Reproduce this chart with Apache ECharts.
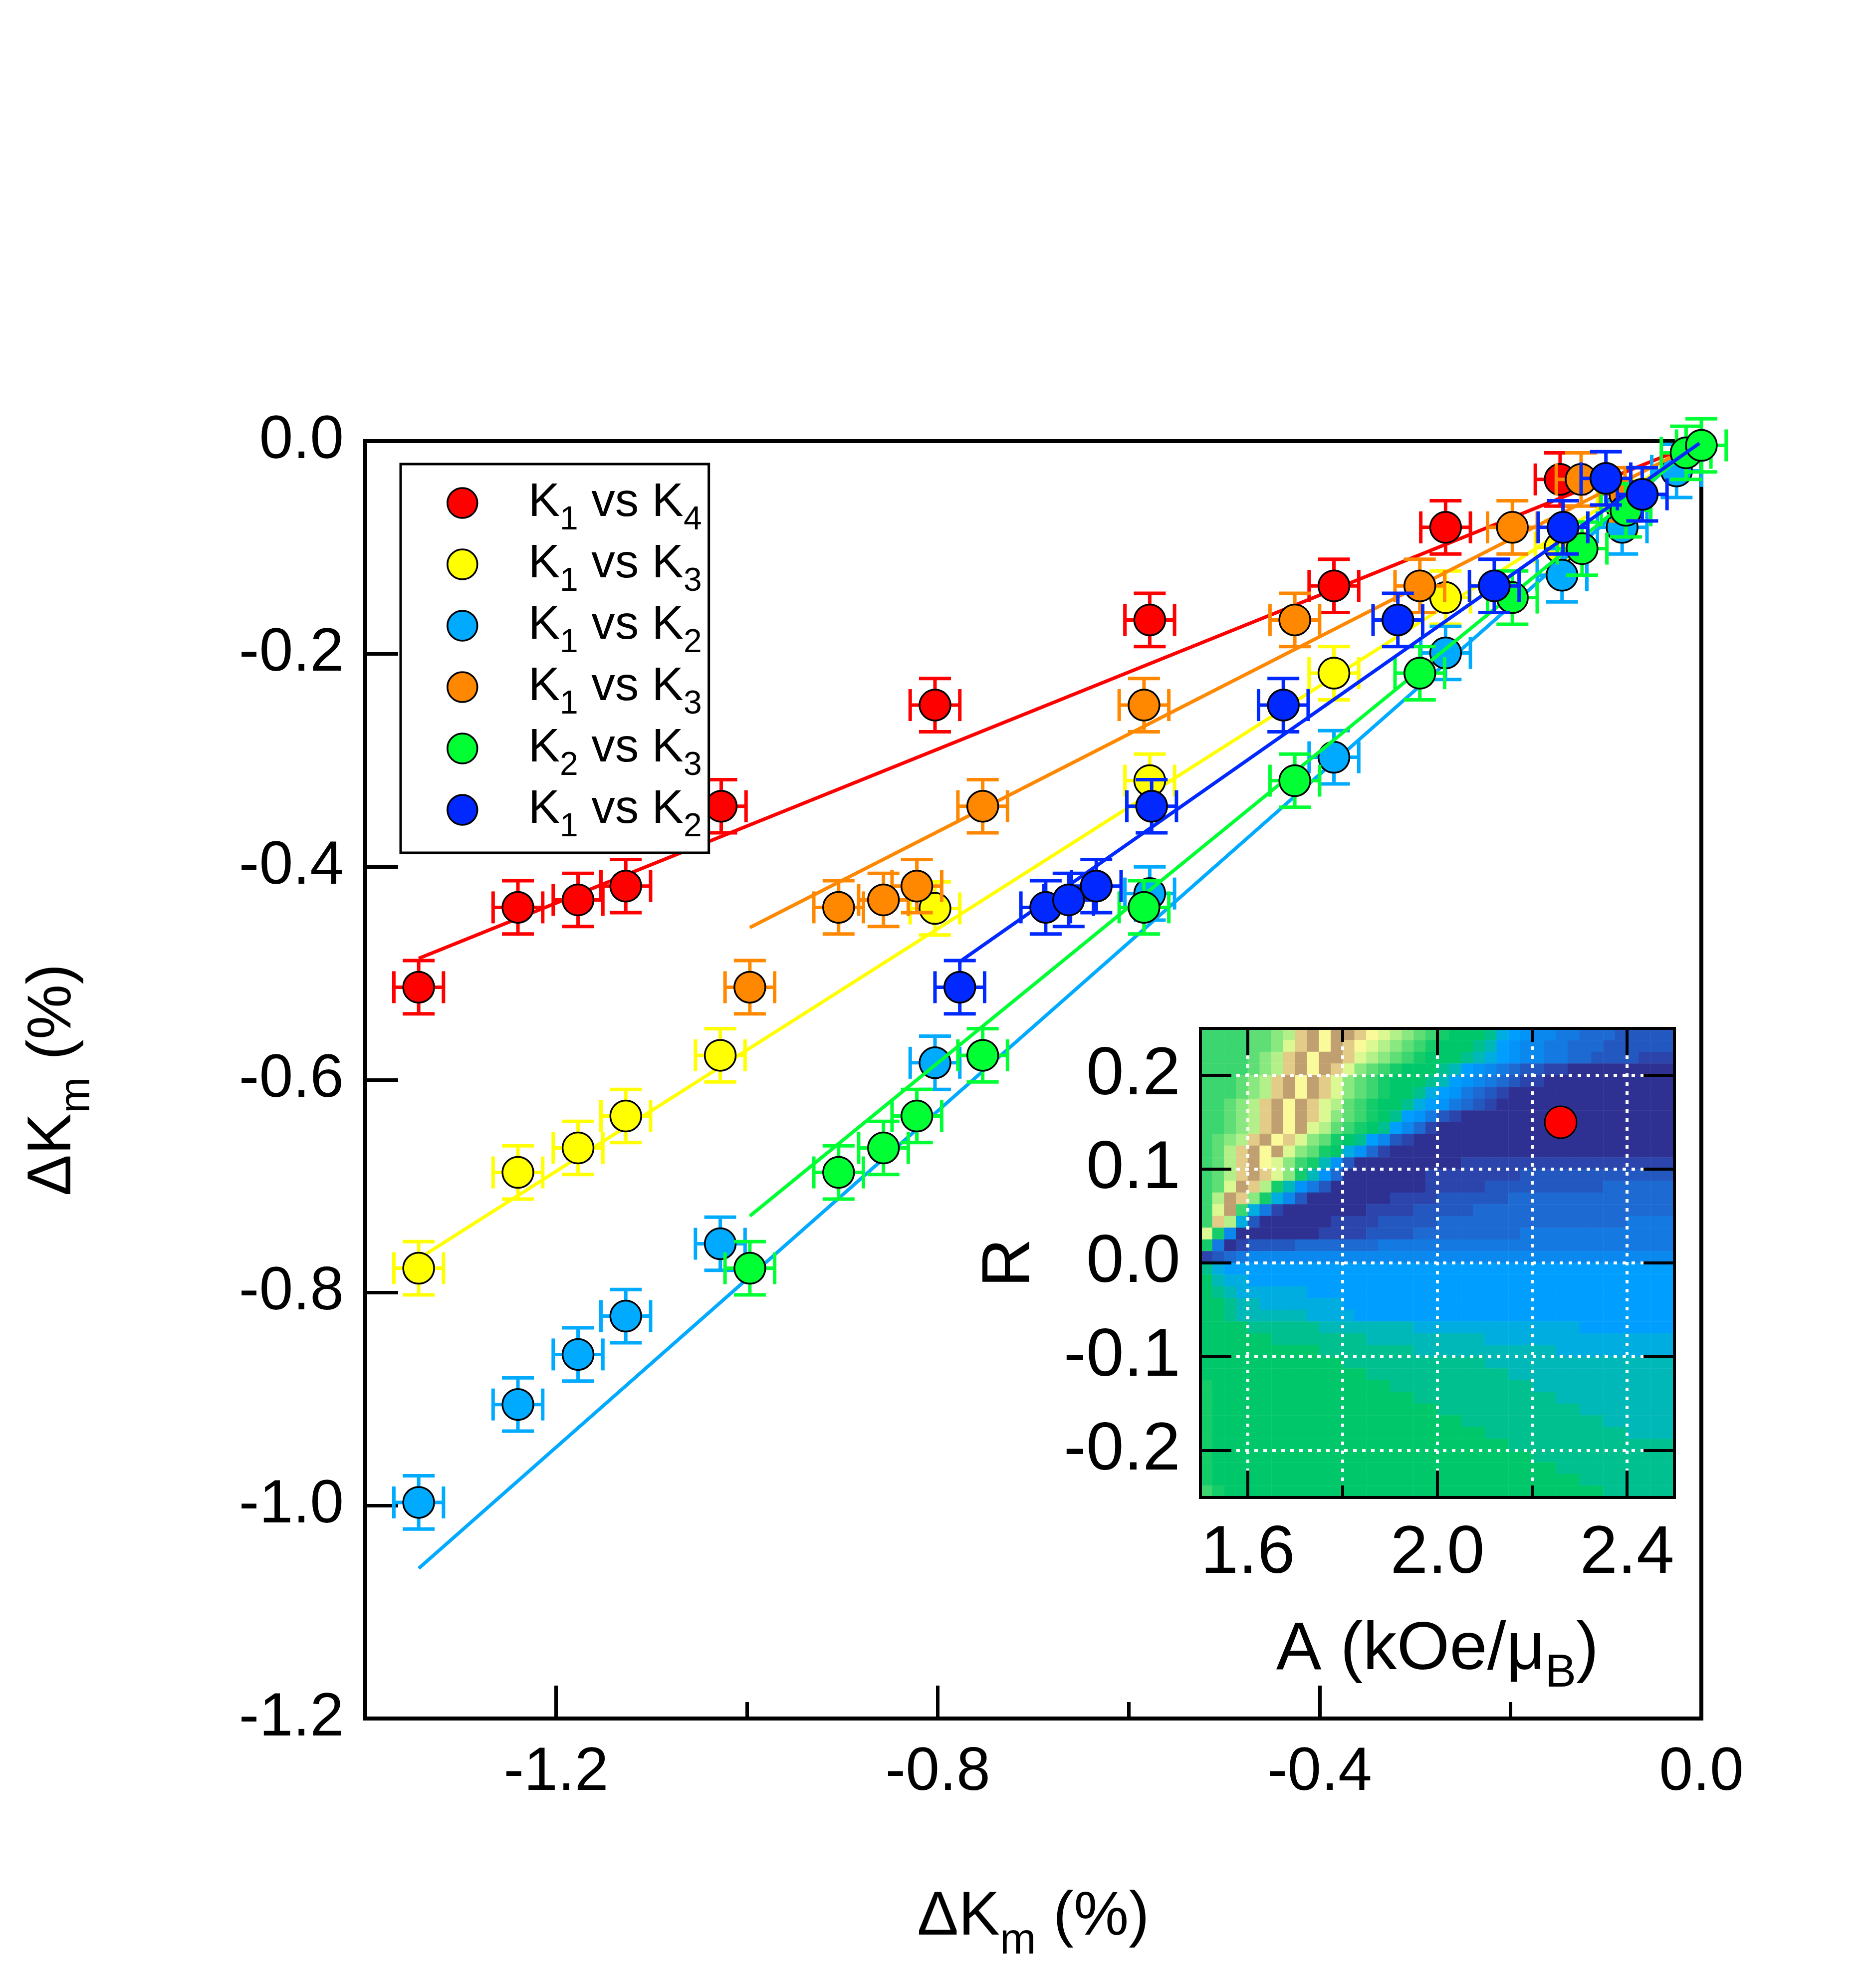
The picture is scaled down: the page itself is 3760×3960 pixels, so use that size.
<!DOCTYPE html>
<html>
<head>
<meta charset="utf-8">
<script src="https://cdn.jsdelivr.net/npm/echarts@6/dist/echarts.min.js"></script>
<style>
  html, body { margin: 0; padding: 0; background: #fff; }
  #chart { width: 3760px; height: 3960px; }
</style>
</head>
<body>
<div id="chart"></div>
<script>
// Main panel: change of K_m for one pair against another
const seriesNames = ['K1 vs K4', 'K1 vs K3', 'K1 vs K2', 'K1 vs K3 ', 'K2 vs K3', 'K1 vs K2 '];
const seriesColors = ['#ff0000', '#ffff00', '#00aaff', '#ff8800', '#00ff33', '#0028ff'];

const k1k4X = [-1.344, -1.240, -1.177, -1.127, -1.027, -0.803, -0.578, -0.385, -0.268, -0.148];
const k1k4Y = [-0.513, -0.438, -0.431, -0.418, -0.343, -0.248, -0.168, -0.136, -0.081, -0.036];
const k1k3X = [-1.344, -1.240, -1.177, -1.127, -1.028, -0.803, -0.578, -0.385, -0.268, -0.148, -0.083];
const k1k3Y = [-0.777, -0.687, -0.664, -0.634, -0.577, -0.439, -0.319, -0.218, -0.147, -0.100, -0.062];
const k1k2X = [-1.344, -1.240, -1.177, -1.127, -1.028, -0.803, -0.578, -0.385, -0.268, -0.146, -0.083, -0.026];
const k1k2Y = [-0.997, -0.905, -0.858, -0.822, -0.754, -0.584, -0.425, -0.297, -0.199, -0.126, -0.081, -0.028];
const k1k3bX = [-0.997, -0.904, -0.857, -0.822, -0.753, -0.584, -0.426, -0.295, -0.198, -0.126, -0.080];
const k1k3bY = [-0.513, -0.438, -0.431, -0.418, -0.343, -0.248, -0.168, -0.136, -0.081, -0.036, -0.050];
const k2k3X = [-0.997, -0.904, -0.857, -0.822, -0.753, -0.584, -0.426, -0.295, -0.198, -0.125, -0.079, -0.016, 0.000];
const k2k3Y = [-0.777, -0.687, -0.664, -0.634, -0.577, -0.438, -0.319, -0.218, -0.147, -0.101, -0.065, -0.011, -0.004];
const k1k2bX = [-0.777, -0.687, -0.663, -0.634, -0.576, -0.438, -0.318, -0.217, -0.145, -0.100, -0.062];
const k1k2bY = [-0.513, -0.438, -0.431, -0.418, -0.343, -0.248, -0.168, -0.136, -0.081, -0.035, -0.050];

// straight fit lines, [start, end]
const fitX = [[-1.344, -0.005], [-1.344, -0.005], [-1.344, -0.005], [-0.997, -0.005], [-0.997, -0.005], [-0.777, -0.002]];
const fitY = [[-0.486, -0.002], [-0.768, -0.005], [-1.059, -0.001], [-0.457, -0.003], [-0.728, -0.003], [-0.489, -0.002]];

const errX = 0.026;
const errY = 0.025;

const mainXMajor = [-1.2, -0.8, -0.4];
const mainXMinor = [-1.0, -0.6, -0.2];
const mainXLabels = [-1.2, -0.8, -0.4, 0.0];

// Inset: map over A (kOe/muB) and R
const insetA = [2.26];
const insetR = [0.15];
const insetAMajor = [1.6, 2.0, 2.4];
const insetAMinor = [1.8, 2.2];
const insetRTicks = [-0.2, -0.1, 0.0, 0.1, 0.2];
const insetGridA = [1.6, 1.8, 2.0, 2.2, 2.4];
const insetGridR = [-0.2, -0.1, 0.0, 0.1, 0.2];

// colour levels A..V, low to high
const heatColors = ['#2e3192', '#2b45ad', '#2358c0', '#1c6ad2', '#1479e0', '#0a88ee', '#0394fa', '#009fff',
  '#00ade0', '#00b8b8', '#00c090', '#00c86a', '#14cc6a', '#3cd670', '#60de76', '#8ae880', '#b4f08a',
  '#dcf892', '#fafa9a', '#e2cc88', '#c0a070', '#98705a'];

// 40 x 40 cells, top row is R = 0.25, left column is A = 1.5
const heatRows = [
  'NNNNOOPQTU SUUTSRQPON MLLLKIHGFF EEDDDCCCCC',
  'NNNNOOPRTU SUTSRQPONM LLLKJHGFFE EDDDCCCCCC',
  'NNNNOPQTUS UUTRQPONML LLKJIHGFFE EDDCCCCBBB',
  'NNNNOPQTUS UTRPONMLLL KJHGFEDCCB BAAAAAAAAA',
  'NNNOPQTUSU TRPONMLLLK JHGFEDCBBA AAAAAAAAAA',
  'NNNOPQTUSU TRPONMLLKI HGEDCBAAAA AAAAAAAAAA',
  'NNOPQTUSUT RQONMLLKIH GEDCBAAAAA AAAAAAAAAA',
  'NNOPQTUSUT RPONMLKHGE CBAAAAAAAA AAAAAAAAAA',
  'NNOPQTUSUR QONMLKHFDB AAAAAAAAAA AAAAAAAAAA',
  'NOPQTUSTRP OMLKHFCBAA AAAAAAAAAA AAAAAAAAAA',
  'NOQTUSURPO MLIGDBAAAA AAAAAAAAAA AAAAAAAAAA',
  'NOQTUSRPNM JGCAAAAAAA AABBBBBBBB BBBBBBBBBB',
  'NOQTUTRPMJ GDAAAAAAAB BBBBBBBCCC CCCCCCCCCC',
  'NORUTQMJGE CAAAAAAAAB BBBBCCCCCC CCCCDDDDDD',
  'NQUTPMIFCA AAAAAABBBB CCCCCCDDDD DDDDDDDDDD',
  'NRUNIEBAAA AAAABBBBCC CCCDDDDDDD DDDDDDDDDD',
  'NTQICAAAAA ABBBBCCCCC DDDDDDDDDD DDDDDDEEEE',
  'RMFAAAAAAA BBBBCCCCDD DDDDDDDEEE EEEEEEEEEE',
  'MEABCCCCDD DDDDDEEEEE EEEEEEEEEE EEEEEEEEEE',
  'BCDEFFFFFF FFFFFFFFFF FFFFFFFFFF FFFFFFFFFF',
  'KIHHHHHHHH HHHHHHHHHH HHHHHHHHHH HHHHHHHHHH',
  'LJIIHHHHHH HHHHHHHHHH HHHHHHHHHH HHHHHHHHHH',
  'LKJIIIIIIH HHHHHHHHHH HHHHHHHHHH HHHHHHHHHH',
  'LLKJJIIIII IIHHHHHHHH HHHHHHHHHH HHHHHHHHHH',
  'LLKJJJJJJI IIIHHHHHHH HHHHHHHHHH HHHHHHHHHH',
  'LLLLKKKKKK JJJJJJJJII IIIIIIIIII IIHHHHHHHH',
  'LLLLLLKKKK KKKKJJJJJJ JJJJIIIIII IIIIIIIIII',
  'LLLLLLLLLL KKKKKKKKJJ JJJJJJJJJJ IIIIIIIIII',
  'LLLLLLLLLL LLKKKKKKKK KKKKJJJJJJ JJJJJJJJJJ',
  'LLLLLLLLLL LLLLKKKKKK KKKKKKJJJJ JJJJJJJJJJ',
  'MLLLLLLLLL LLLLLLKKKK KKKKKKKKJJ JJJJJJJJJJ',
  'MLLLLLLLLL LLLLLLLLKK KKKKKKKKKK JJJJJJJJJJ',
  'MLLLLLLLLL LLLLLLLLLL KKKKKKKKKK KKJJJJJJJJ',
  'MLLLLLLLLL LLLLLLLLLL LLKKKKKKKK KKKKJJJJJJ',
  'MLLLLLLLLL LLLLLLLLLL LLLLKKKKKK KKKKKKJJJJ',
  'MLLLLLLLLL LLLLLLLLLL LLLLLLKKKK KKKKKKKKKK',
  'MLLLLLLLLL LLLLLLLLLL LLLLLLLLKK KKKKKKKKKK',
  'MLLLLLLLLL LLLLLLLLLL LLLLLLLLLL KKKKKKKKKK',
  'MLLLLLLLLL LLLLLLLLLL LLLLLLLLLL LLKKKKKKKK',
  'NMLLLLLLLL LLLLLLLLLL LLLLLLLLLL LLLLKKKKKK'
].map(r => r.replace(/ /g, ''));

const FONT = '"Liberation Sans", Arial, Helvetica, sans-serif';

const heatCols = Array.from({ length: 40 }, (_, i) => i);
const heatData = [];
heatRows.forEach((row, j) => {
  for (let i = 0; i < row.length; i++) {
    heatData.push([i, heatRows.length - 1 - j, row.charCodeAt(i) - 65]);
  }
});

function seg(x1, y1, x2, y2, color, width) {
  return { type: 'line', shape: { x1, y1, x2, y2 }, style: { stroke: color, lineWidth: width } };
}

function errorBarItem(color) {
  return function (params, api) {
    const x = api.value(0), y = api.value(1);
    const c = api.coord([x, y]);
    const l = api.coord([x - errX, y]);
    const r = api.coord([x + errX, y]);
    const t = api.coord([x, y + errY]);
    const b = api.coord([x, y - errY]);
    const cap = 32, w = 7;
    return {
      type: 'group',
      children: [
        seg(l[0], c[1], r[0], c[1], color, w),
        seg(c[0], t[1], c[0], b[1], color, w),
        seg(l[0], c[1] - cap, l[0], c[1] + cap, color, w),
        seg(r[0], c[1] - cap, r[0], c[1] + cap, color, w),
        seg(c[0] - cap, t[1], c[0] + cap, t[1], color, w),
        seg(c[0] - cap, b[1], c[0] + cap, b[1], color, w)
      ]
    };
  };
}

function gridLineItem(vertical) {
  return function (params, api) {
    const cs = params.coordSys;
    const p = api.coord([api.value(0), api.value(1)]);
    const style = { stroke: '#ffffff', lineWidth: 6, lineDash: [7, 11] };
    const shape = vertical
      ? { x1: p[0], y1: cs.y, x2: p[0], y2: cs.y + cs.height }
      : { x1: cs.x, y1: p[1], x2: cs.x + cs.width, y2: p[1] };
    return { type: 'line', shape, style };
  };
}

const pointSets = [[k1k4X, k1k4Y], [k1k3X, k1k3Y], [k1k2X, k1k2Y], [k1k3bX, k1k3bY], [k2k3X, k2k3Y], [k1k2bX, k1k2bY]];

const series = [];
pointSets.forEach(([xs, ys], i) => {
  const color = seriesColors[i];
  const pts = xs.map((x, k) => [x, ys[k]]);
  series.push({
    type: 'custom', xAxisIndex: 0, yAxisIndex: 0, data: pts,
    renderItem: errorBarItem(color), z: 10 + 3 * i, silent: true, clip: false
  });
  series.push({
    type: 'line', xAxisIndex: 0, yAxisIndex: 0,
    data: fitX[i].map((x, k) => [x, fitY[i][k]]),
    symbol: 'none', showSymbol: false, lineStyle: { color, width: 7 },
    z: 11 + 3 * i, silent: true
  });
  series.push({
    type: 'scatter', name: seriesNames[i], xAxisIndex: 0, yAxisIndex: 0, data: pts,
    symbol: 'circle', symbolSize: 62,
    itemStyle: { color, borderColor: '#000', borderWidth: 3.5, opacity: 1 },
    z: 12 + 3 * i, clip: false, silent: true
  });
});

series.push({
  type: 'heatmap', xAxisIndex: 2, yAxisIndex: 1, data: heatData,
  itemStyle: { borderWidth: 0 }, emphasis: { disabled: true },
  progressive: 0, z: 50, silent: true
});
series.push({
  type: 'custom', xAxisIndex: 3, yAxisIndex: 2, data: insetGridA.map(v => [v, 0]),
  renderItem: gridLineItem(true), z: 51, silent: true
});
series.push({
  type: 'custom', xAxisIndex: 3, yAxisIndex: 2, data: insetGridR.map(v => [2.0, v]),
  renderItem: gridLineItem(false), z: 51, silent: true
});
series.push({
  type: 'scatter', xAxisIndex: 3, yAxisIndex: 2, data: insetA.map((a, k) => [a, insetR[k]]),
  symbol: 'circle', symbolSize: 64,
  itemStyle: { color: '#ff0000', borderColor: '#000', borderWidth: 3, opacity: 1 },
  z: 52, silent: true
});

const nameStyle = (size, sub, lh) => ({
  fontFamily: FONT, fontSize: size, color: '#000', lineHeight: lh,
  align: 'center', verticalAlign: 'middle',
  rich: { s: { fontFamily: FONT, fontSize: sub, lineHeight: lh, verticalAlign: 'bottom', color: '#000' } }
});

const fmt = v => v.toFixed(1);

const insetAxisBase = {
  gridIndex: 2, type: 'value', z: 60,
  axisLine: { show: false, onZero: false },
  splitLine: { show: false }
};

const option = {
  backgroundColor: '#ffffff',
  animation: false,
  grid: [
    { left: 732, top: 884, width: 2678, height: 2560, show: true, borderColor: '#000', borderWidth: 8,
      backgroundColor: 'transparent', containLabel: false, outerBoundsMode: 'none' },
    { left: 2406, top: 2061, width: 950, height: 940, containLabel: false, outerBoundsMode: 'none' },
    { left: 2406, top: 2061, width: 950, height: 940, show: true, borderColor: '#000', borderWidth: 6,
      backgroundColor: 'transparent', z: 60, containLabel: false, outerBoundsMode: 'none' }
  ],
  legend: {
    data: seriesNames, orient: 'vertical', left: 803, top: 930,
    itemWidth: 60, itemHeight: 60, itemGap: -13,
    padding: [10, 14, 18, 92],
    backgroundColor: '#ffffff', borderColor: '#000', borderWidth: 5,
    selectedMode: false, z: 100,
    itemStyle: { borderColor: '#000', borderWidth: 3.5 },
    formatter: name => '{g| }' + name.trim().replace(/K(\d)/g, 'K{s|$1}'),
    textStyle: {
      fontFamily: FONT, fontSize: 95, color: '#000', lineHeight: 136,
      rich: {
        g: { width: 97, fontSize: 95, lineHeight: 136 },
        s: { fontFamily: FONT, fontSize: 66, lineHeight: 136, verticalAlign: 'bottom', color: '#000' }
      }
    }
  },
  visualMap: {
    type: 'continuous', show: false, seriesIndex: 18, min: 0, max: heatColors.length - 1,
    inRange: { color: heatColors }
  },
  xAxis: [
    { gridIndex: 0, type: 'value', min: -1.4, max: 0, position: 'bottom',
      axisLine: { onZero: false, lineStyle: { color: '#000', width: 8 } },
      axisTick: { inside: true, length: 66, customValues: mainXMajor, lineStyle: { color: '#000', width: 7 } },
      axisLabel: { customValues: mainXLabels, formatter: fmt, margin: 48, fontSize: 122, fontFamily: FONT, color: '#000' },
      splitLine: { show: false },
      name: 'ΔK{s|m} (%)', nameLocation: 'middle', nameGap: 399, nameTextStyle: nameStyle(124, 87, 183) },
    { gridIndex: 0, type: 'value', min: -1.4, max: 0, position: 'bottom',
      axisLine: { show: false, onZero: false },
      axisTick: { inside: true, length: 33, customValues: mainXMinor, lineStyle: { color: '#000', width: 7 } },
      axisLabel: { show: false }, splitLine: { show: false } },
    { gridIndex: 1, type: 'category', data: heatCols, show: false },
    Object.assign({}, insetAxisBase, {
      min: 1.5, max: 2.5, position: 'bottom',
      axisTick: { inside: true, length: 54, customValues: insetAMajor, lineStyle: { color: '#000', width: 6 } },
      axisLabel: { customValues: insetAMajor, formatter: fmt, margin: 45, fontSize: 136, fontFamily: FONT, color: '#000' },
      name: 'A (kOe/μ{s|B})', nameLocation: 'middle', nameGap: 306, nameTextStyle: nameStyle(136, 93, 188)
    }),
    Object.assign({}, insetAxisBase, {
      min: 1.5, max: 2.5, position: 'bottom',
      axisTick: { inside: true, length: 24, customValues: insetAMinor, lineStyle: { color: '#000', width: 6 } },
      axisLabel: { show: false }
    }),
    Object.assign({}, insetAxisBase, {
      min: 1.5, max: 2.5, position: 'top',
      axisTick: { inside: true, length: 54, customValues: insetAMajor, lineStyle: { color: '#000', width: 6 } },
      axisLabel: { show: false }
    }),
    Object.assign({}, insetAxisBase, {
      min: 1.5, max: 2.5, position: 'top',
      axisTick: { inside: true, length: 27, customValues: insetAMinor, lineStyle: { color: '#000', width: 6 } },
      axisLabel: { show: false }
    })
  ],
  yAxis: [
    { gridIndex: 0, type: 'value', min: -1.2, max: 0, interval: 0.2, position: 'left',
      axisLine: { onZero: false, lineStyle: { color: '#000', width: 8 } },
      axisTick: { inside: true, length: 66, lineStyle: { color: '#000', width: 7 } },
      axisLabel: { formatter: fmt, margin: 43, fontSize: 122, fontFamily: FONT, color: '#000' },
      splitLine: { show: false },
      name: 'ΔK{s|m} (%)', nameLocation: 'middle', nameRotate: 90, nameGap: 625, nameTextStyle: nameStyle(124, 87, 183) },
    { gridIndex: 1, type: 'category', data: heatCols, show: false },
    Object.assign({}, insetAxisBase, {
      min: -0.25, max: 0.25, position: 'left',
      axisTick: { inside: true, length: 62, customValues: insetRTicks, lineStyle: { color: '#000', width: 6 } },
      axisLabel: { customValues: insetRTicks, formatter: fmt, margin: 40, fontSize: 136, fontFamily: FONT, color: '#000' },
      name: 'R', nameLocation: 'middle', nameRotate: 90, nameGap: 381, nameTextStyle: nameStyle(136, 93, 160)
    }),
    Object.assign({}, insetAxisBase, {
      min: -0.25, max: 0.25, position: 'right',
      axisTick: { inside: true, length: 62, customValues: insetRTicks, lineStyle: { color: '#000', width: 6 } },
      axisLabel: { show: false }
    })
  ],
  series
};

const chart = echarts.init(document.getElementById('chart'), null, { renderer: 'canvas' });
chart.setOption(option);
</script>
</body>
</html>
